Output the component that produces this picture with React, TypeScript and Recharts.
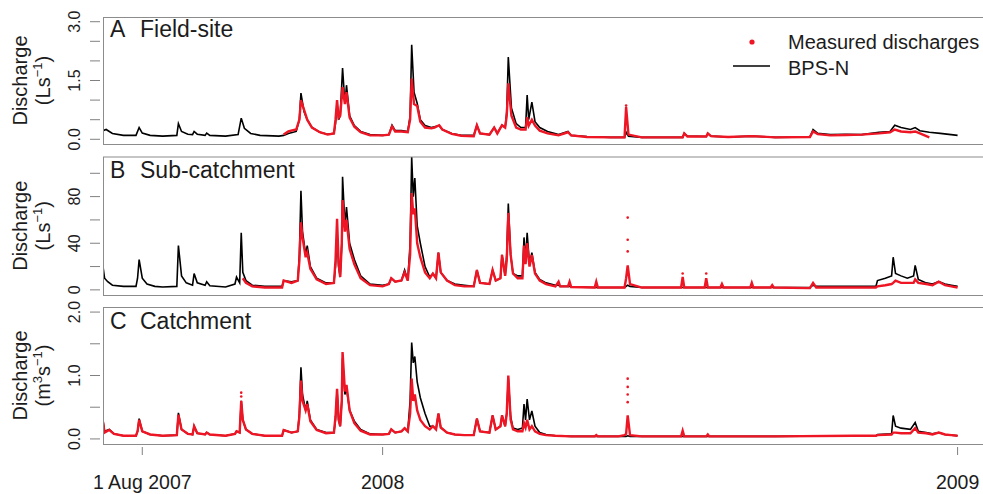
import { ComposedChart, Line, Scatter, XAxis, YAxis } from 'recharts'

// time in days since 1 Jan 2008
const xDomain = [-178, 386]
const xTicks = [-153, 0, 366]
const xTickLabels = ['1 Aug 2007', '2008', '2009']

// A  Field-site (L/s)
const tA = [
  -178, -176, -172, -165, -157, -155, -153, -148, -140, -131,
  -130, -128, -124, -121, -120, -118, -113, -112, -110, -100,
  -92, -90, -88, -84, -78, -66, -63, -60, -55, -53,
  -52, -50, -48, -45, -40, -35, -31, -30, -29, -28,
  -27, -25.5, -24, -23, -21, -18, -14, -8, 0, 4,
  6, 8, 12, 16, 17.5, 18.5, 20, 22, 24, 27,
  31, 33, 36, 38, 44, 50, 58, 60, 62, 68,
  71, 73, 76, 78, 79, 80, 82, 85, 88, 91,
  92, 93, 95, 97, 100, 105, 112, 118, 120, 130,
  145, 154, 155, 156.5, 165, 191, 192, 194, 206, 207,
  209, 220, 235, 250, 272, 274, 277, 285, 295, 305,
  316, 323, 326, 330, 336, 339, 342, 348, 355, 366,
]
const modelA = [
  0.22, 0.25, 0.15, 0.1, 0.1, 0.3, 0.16, 0.1, 0.08, 0.1,
  0.4, 0.2, 0.13, 0.12, 0.2, 0.13, 0.1, 0.16, 0.1, 0.08,
  0.12, 0.54, 0.28, 0.15, 0.1, 0.08, 0.1, 0.15, 0.2, 0.5,
  1.18, 0.7, 0.5, 0.3, 0.18, 0.13, 0.15, 0.4, 0.9, 0.5,
  0.6, 1.82, 0.9, 1.38, 0.6, 0.35, 0.2, 0.12, 0.1, 0.12,
  0.36, 0.22, 0.22, 0.2, 0.6, 2.41, 1.2, 0.92, 0.5, 0.35,
  0.3, 0.32, 0.35, 0.25, 0.15, 0.1, 0.1, 0.36, 0.15, 0.12,
  0.3, 0.15, 0.36, 0.3, 0.7, 2.1, 0.8, 0.4, 0.3, 0.3,
  1.13, 0.5, 0.95, 0.45, 0.3, 0.2, 0.12, 0.2, 0.1, 0.07,
  0.05, 0.05, 0.18, 0.08, 0.05, 0.05, 0.15, 0.08, 0.07, 0.15,
  0.08, 0.06, 0.08, 0.05, 0.06, 0.25, 0.15, 0.12, 0.13, 0.12,
  0.18, 0.2, 0.36, 0.3, 0.25, 0.3, 0.22, 0.18, 0.15, 0.1,
]
const measA = [
  null, null, null, null, null, null, null, null, null, null,
  null, null, null, null, null, null, null, null, null, null,
  null, null, null, null, null, null, 0.12, 0.2, 0.25, 0.5,
  1.0, 0.75, 0.5, 0.3, 0.18, 0.12, 0.15, 0.5, 1.0, 0.55,
  0.6, 1.33, 0.9, 1.2, 0.55, 0.32, 0.18, 0.1, 0.1, 0.12,
  0.33, 0.2, 0.2, 0.18, 0.5, 1.55, 0.9, 0.85, 0.45, 0.3,
  0.28, 0.3, 0.36, 0.25, 0.14, 0.09, 0.08, 0.36, 0.15, 0.12,
  0.3, 0.15, 0.36, 0.3, 0.6, 1.43, 0.6, 0.3, 0.25, 0.25,
  0.56, 0.35, 0.5, 0.35, 0.22, 0.15, 0.1, 0.18, 0.1, 0.06,
  0.05, 0.05, 0.82, 0.12, 0.05, 0.05, 0.15, 0.07, 0.07, 0.15,
  0.08, 0.06, 0.08, 0.05, 0.06, 0.2, 0.13, 0.1, 0.11, 0.12,
  0.15, 0.18, 0.25, 0.2, 0.18, 0.2, 0.15, 0.05, null, null,
]
const tDotsA = [155]
const vDotsA = [0.86]

// B  Sub-catchment (L/s)
const tB = [
  -178, -177, -175, -172, -165, -157, -156, -155, -153, -150,
  -145, -140, -131, -130, -128, -125, -121, -120, -118, -113,
  -112, -110, -100, -94, -93, -91, -90, -89, -87, -83,
  -75, -64, -63, -58, -54, -53, -52, -51, -49, -48,
  -46, -42, -36, -31, -30, -29, -28, -27, -26, -25.5,
  -24, -23, -21, -18, -14, -8, 0, 4, 5.5, 8,
  12, 14, 16, 17.5, 18.5, 19.5, 20.5, 22, 24, 27,
  30, 32, 34, 35.5, 37, 41, 46, 52, 58, 60,
  62, 68, 70, 72, 75, 76, 78, 79, 80, 81.5,
  83, 86, 89, 90, 91, 92, 93.5, 95, 97, 100,
  104, 110, 112, 113, 118, 119, 120, 135, 136, 137,
  150, 154, 155, 156, 157.5, 165, 185, 190, 191, 192, 205, 206, 207,
  215, 216, 217, 234, 235, 236, 247, 248, 249, 272,
  274, 276, 300, 314, 315, 320, 324, 325, 326.5, 330,
  334, 338, 339, 341, 346, 350, 354, 358, 362, 366,
]
const modelB = [
  20, 10, 7, 4, 3, 3, 10, 26, 10, 5,
  3, 2.5, 3, 38, 12, 6, 4, 14, 6, 4,
  7, 3.5, 2.5, 5, 11, 6, 49, 15, 8, 4,
  3, 3, 8, 7, 8, 30, 85, 50, 30, 38,
  20, 10, 6, 6, 20, 50, 20, 11, 40, 97,
  55, 71, 40, 26, 12, 5, 4, 5, 10, 7,
  8, 17, 8, 40, 114, 80, 96, 55, 40, 20,
  11, 14, 10, 32, 15, 8, 5, 4, 3, 17,
  6, 5, 17, 8, 10, 30, 12, 30, 74, 30,
  14, 12, 12, 45, 25, 49, 22, 32, 15, 9,
  6, 4, 4, 3, 3, 3, 2.5, 2, 2, 2,
  2, 2, 3, 4, 3, 2, 2, 2, 2, 2, 2, 2, 2,
  2, 2, 2, 2, 2, 2, 2, 2, 2, 2,
  4, 3, 3, 3, 8, 10, 12, 28, 14, 12,
  10, 12, 21, 9, 6, 5, 7, 5, 4, 3,
]
const measB = [
  null, null, null, null, null, null, null, null, null, null,
  null, null, null, null, null, null, null, null, null, null,
  null, null, null, null, null, null, null, 10, 6, 3,
  2, 2, 8, 6, 8, 25, 58, 45, 28, 32,
  18, 9, 5, 6, 25, 61, 22, 11, 40, 77,
  50, 60, 35, 22, 10, 4, 3, 5, 10, 7,
  8, 15, 8, 30, 83, 65, 70, 40, 28, 15,
  10, 14, 10, 32, 15, 8, 4, 3, 3, 17,
  6, 5, 17, 8, 10, 30, 12, 25, 66, 30,
  14, 10, 10, 38, 22, 40, 20, 30, 14, 8,
  5, 3, 7, 3, 3, 7, 2.5, 2, 7, 2,
  2, 2, 10, 21, 5, 2, 2, 2, 11, 2, 2, 10, 2,
  2, 5, 2, 2, 6, 2, 2, 4, 2, 1.5,
  6, 2, 2, 2, 3, 4, 5, 6, 8, 6,
  6, 6, 9, 6, 5, 4, 7, 4, 3, 2,
]
const tDotsB = [156, 156, 156, 191, 206]
const vDotsB = [62, 43, 33, 14, 14]

// C  Catchment (m3/s)
const tC = [
  -178, -177, -174, -171, -165, -157, -156, -155, -153, -148,
  -140, -131, -130, -128, -124, -121, -120, -118, -113, -112,
  -110, -100, -94, -93, -91, -90, -89, -87, -83, -75,
  -64, -63, -58, -54, -53, -52, -51, -49, -48, -46,
  -42, -36, -31, -30, -29, -28, -27, -26, -25.5, -24,
  -23, -21, -18, -14, -8, 0, 4, 5.5, 8, 12,
  14, 16, 17.5, 18.5, 19.5, 20.5, 22, 24, 27, 30,
  32, 34, 35.5, 37, 41, 46, 52, 58, 60, 62,
  68, 70, 72, 75, 76, 78, 79, 80, 81.5, 83,
  86, 89, 90, 91, 92, 93.5, 95, 97, 100, 104,
  110, 120, 135, 136, 137, 150, 154, 155, 156, 157.5,
  165, 190, 191, 192, 206, 207, 208, 250, 300, 314,
  315, 324, 325, 326.5, 330, 336, 339, 341, 346, 350,
  354, 358, 362, 366,
]
const modelC = [
  0.29, 0.12, 0.15, 0.08, 0.05, 0.05, 0.12, 0.32, 0.12, 0.07,
  0.05, 0.06, 0.41, 0.15, 0.08, 0.07, 0.2, 0.09, 0.07, 0.1,
  0.07, 0.05, 0.08, 0.12, 0.1, 0.6, 0.3, 0.15, 0.08, 0.05,
  0.05, 0.14, 0.1, 0.12, 0.4, 1.13, 0.7, 0.45, 0.6, 0.3,
  0.15, 0.1, 0.1, 0.3, 0.76, 0.3, 0.2, 0.6, 1.27, 0.7,
  0.8, 0.45, 0.28, 0.15, 0.08, 0.07, 0.08, 0.15, 0.1, 0.12,
  0.17, 0.12, 0.6, 1.52, 1.2, 1.3, 0.9, 0.65, 0.4, 0.2,
  0.2, 0.15, 0.4, 0.18, 0.1, 0.07, 0.06, 0.06, 0.32, 0.12,
  0.1, 0.37, 0.15, 0.2, 0.37, 0.2, 0.4, 0.95, 0.35, 0.17,
  0.15, 0.17, 0.55, 0.3, 0.63, 0.3, 0.44, 0.2, 0.1, 0.07,
  0.05, 0.04, 0.04, 0.04, 0.04, 0.04, 0.04, 0.04, 0.05, 0.04,
  0.04, 0.04, 0.04, 0.04, 0.04, 0.04, 0.04, 0.04, 0.05, 0.05,
  0.07, 0.08, 0.37, 0.2, 0.17, 0.15, 0.26, 0.12, 0.1, 0.08,
  0.1, 0.07, 0.06, 0.05,
]
const measC = [
  0.27, 0.1, 0.14, 0.08, 0.05, 0.05, 0.12, 0.3, 0.12, 0.07,
  0.05, 0.06, 0.38, 0.15, 0.08, 0.07, 0.2, 0.09, 0.07, 0.1,
  0.07, 0.05, 0.08, 0.12, 0.1, 0.6, 0.3, 0.15, 0.08, 0.05,
  0.05, 0.14, 0.1, 0.12, 0.35, 0.92, 0.6, 0.45, 0.55, 0.28,
  0.14, 0.09, 0.1, 0.35, 0.79, 0.3, 0.2, 0.6, 1.37, 0.75,
  0.85, 0.45, 0.25, 0.13, 0.07, 0.07, 0.08, 0.15, 0.1, 0.12,
  0.17, 0.12, 0.4, 0.95, 0.6, 0.7, 0.45, 0.3, 0.2, 0.15,
  0.2, 0.15, 0.4, 0.18, 0.1, 0.07, 0.06, 0.06, 0.32, 0.12,
  0.1, 0.37, 0.15, 0.2, 0.37, 0.2, 0.4, 1.0, 0.3, 0.15,
  0.12, 0.12, 0.25, 0.18, 0.3, 0.15, 0.2, 0.12, 0.08, 0.06,
  0.05, 0.04, 0.04, 0.06, 0.04, 0.04, 0.06, 0.08, 0.37, 0.06,
  0.04, 0.04, 0.13, 0.04, 0.04, 0.07, 0.04, 0.04, 0.05, 0.05,
  0.06, 0.07, 0.1, 0.1, 0.09, 0.09, 0.17, 0.1, 0.09, 0.07,
  0.1, 0.07, 0.06, 0.05,
]
const tDotsC = [-90, -90, 156, 156, 156, 156]
const vDotsC = [0.73, 0.67, 0.95, 0.82, 0.7, 0.58]

const yTicksA = [0, 0.5, 1, 1.5, 2, 2.5, 3]
const yLabelsA = ['0.0', '', '', '1.5', '', '', '3.0']
const yTicksB = [0, 20, 40, 60, 80, 100]
const yLabelsB = ['0', '', '40', '', '80', '']
const yTicksC = [0, 0.5, 1, 1.5, 2]
const yLabelsC = ['0.0', '', '1.0', '', '2.0']

const RED = '#ee1524'
const AXIS = '#808080'
const INK = '#1c1c1c'

const rows = (t: number[], m: number[], s: (number | null)[]) =>
  t.map((x, i) => ({ t: x, model: m[i], meas: s[i] }))
const dots = (t: number[], v: number[]) => t.map((x, i) => ({ t: x, v: v[i] }))

function yTick(ticks: number[], labels: string[]) {
  return (props: any) => {
    const { y, payload } = props
    const lab = labels[ticks.indexOf(payload.value)]
    return (
      <g>
        <line x1={90} x2={100} y1={y} y2={y} stroke={AXIS} strokeWidth={1} />
        {lab ? (
          <text x={80} y={y} transform={`rotate(-90 80 ${y})`} textAnchor="middle" fontSize={16} fill={INK}>
            {lab}
          </text>
        ) : null}
      </g>
    )
  }
}

function xTick(props: any) {
  const { x, payload } = props
  return (
    <g>
      <line x1={x} x2={x} y1={447} y2={455} stroke={AXIS} strokeWidth={1} />
      <text x={x} y={489} textAnchor="middle" fontSize={19.5} fill={INK}>
        {xTickLabels[xTicks.indexOf(payload.value)]}
      </text>
    </g>
  )
}

interface PanelProps {
  data: { t: number; model: number; meas: number | null }[]
  extra: { t: number; v: number }[]
  top: number
  bottom: number
  yDomain: number[]
  yTicks: number[]
  yLabels: string[]
  showX?: boolean
}

function Panel({ data, extra, top, bottom, yDomain, yTicks, yLabels, showX }: PanelProps) {
  return (
    <div style={{ position: 'absolute', left: 0, top: 0 }}>
      <ComposedChart width={1000} height={494} data={data} margin={{ top, right: 11, bottom, left: 43 }}>
        <XAxis
          dataKey="t"
          type="number"
          domain={xDomain}
          allowDataOverflow
          hide={!showX}
          ticks={xTicks}
          interval={0}
          tick={xTick}
          tickLine={false}
          axisLine={false}
          height={40}
        />
        <YAxis
          type="number"
          domain={yDomain}
          allowDataOverflow
          ticks={yTicks}
          interval={0}
          tick={yTick(yTicks, yLabels)}
          tickLine={false}
          axisLine={false}
          width={60}
        />
        <Line dataKey="model" stroke="#000" strokeWidth={1.6} dot={false} activeDot={false} isAnimationActive={false} />
        <Line dataKey="meas" stroke={RED} strokeWidth={2.4} dot={false} activeDot={false} isAnimationActive={false} />
        <Scatter
          data={extra}
          dataKey="v"
          isAnimationActive={false}
          shape={(p: any) => <circle cx={p.cx} cy={p.cy} r={1.3} fill={RED} />}
        />
      </ComposedChart>
    </div>
  )
}

function Unit({ cy, kind }: { cy: number; kind: 'L' | 'm' }) {
  return (
    <text x={50} y={cy} transform={`rotate(-90 50 ${cy})`} textAnchor="middle" fontSize={20} fill={INK}>
      {kind === 'L' ? (
        <>
          (Ls<tspan dy={-8} fontSize={13}>−1</tspan>
          <tspan dy={8}>)</tspan>
        </>
      ) : (
        <>
          (m<tspan dy={-8} fontSize={13}>3</tspan>
          <tspan dy={8}>s</tspan>
          <tspan dy={-8} fontSize={13}>−1</tspan>
          <tspan dy={8}>)</tspan>
        </>
      )}
    </text>
  )
}

export default function App() {
  const panels = [
    { top: 17, bottom: 144, title: 'A', name: 'Field-site', base: 37, unit: 'L' as const },
    { top: 156.5, bottom: 295, title: 'B', name: 'Sub-catchment', base: 178, unit: 'L' as const },
    { top: 307, bottom: 444, title: 'C', name: 'Catchment', base: 329, unit: 'm' as const },
  ]
  return (
    <div
      style={{
        position: 'absolute',
        left: 0,
        top: 0,
        width: 983,
        height: 494,
        overflow: 'hidden',
        background: '#fff',
        fontFamily: "'Liberation Sans', Arial, sans-serif",
      }}
    >
      <Panel data={rows(tA, modelA, measA)} extra={dots(tDotsA, vDotsA)} top={17} bottom={494 - 144}
        yDomain={[-0.12, 3.12]} yTicks={yTicksA} yLabels={yLabelsA} />
      <Panel data={rows(tB, modelB, measB)} extra={dots(tDotsB, vDotsB)} top={156.5} bottom={494 - 295}
        yDomain={[-4.4, 114.4]} yTicks={yTicksB} yLabels={yLabelsB} />
      <Panel data={rows(tC, modelC, measC)} extra={dots(tDotsC, vDotsC)} top={307} bottom={10}
        yDomain={[-0.08, 2.08]} yTicks={yTicksC} yLabels={yLabelsC} showX />

      <svg width={983} height={494} style={{ position: 'absolute', left: 0, top: 0, pointerEvents: 'none' }}>
        {panels.map((p) => {
          const cy = (p.top + p.bottom) / 2
          return (
            <g key={p.title}>
              <rect x={103.5} y={p.top + 0.5} width={900} height={p.bottom - p.top} fill="none" stroke="#8c8c8c" strokeWidth={1} />
              <text x={110} y={p.base} fontSize={23} fill={INK}>
                {p.title}
              </text>
              <text x={140} y={p.base} fontSize={23} fill={INK}>
                {p.name}
              </text>
              <text x={27} y={cy} transform={`rotate(-90 27 ${cy})`} textAnchor="middle" fontSize={20} fill={INK}>
                Discharge
              </text>
              <Unit cy={cy} kind={p.unit} />
            </g>
          )
        })}
        <circle cx={752} cy={42} r={2.6} fill={RED} />
        <text x={788} y={49} fontSize={20} fill={INK}>
          Measured discharges
        </text>
        <line x1={733} x2={770} y1={66} y2={66} stroke="#000" strokeWidth={1.6} />
        <text x={788} y={75} fontSize={20} fill={INK}>
          BPS-N
        </text>
      </svg>
    </div>
  )
}
